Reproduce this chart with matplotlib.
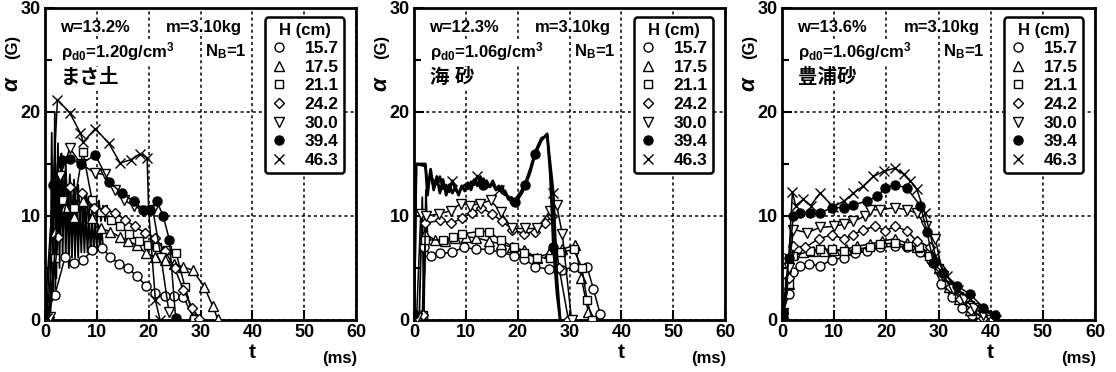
import matplotlib.pyplot as plt
from matplotlib.lines import Line2D

plt.rcParams['font.family'] = ['Liberation Sans', 'Noto Sans CJK JP', 'DejaVu Sans']
plt.rcParams['mathtext.fontset'] = 'custom'
plt.rcParams['mathtext.rm'] = 'Liberation Sans'
plt.rcParams['mathtext.bf'] = 'Liberation Sans:bold'
plt.rcParams['mathtext.default'] = 'regular'

# 落下高さ H (cm)
heights = ['15.7', '17.5', '21.1', '24.2', '30.0', '39.4', '46.3']

# --- まさ土 ---
p1_t157 = [0.0, 1.9, 3.9, 5.6, 7.4, 9.1, 11.0, 12.6, 14.2, 16.0, 17.7, 19.5, 21.3, 23.1, 24.9, 26.7, 28.7]
p1_a157 = [0.3, 2.4, 6.1, 5.5, 5.8, 6.7, 6.9, 6.1, 5.4, 5.0, 4.2, 3.3, 2.6, 2.3, 2.3, 2.2, 0.2]
p1_t175 = [0.3, 1.9, 3.9, 5.5, 7.4, 9.1, 10.8, 12.6, 14.4, 16.0, 17.7, 19.5, 21.3, 23.1, 24.9, 26.7, 28.5, 30.7, 32.4, 33.3]
p1_a175 = [0.2, 8.5, 10.9, 9.9, 11.4, 9.8, 8.8, 8.5, 8.0, 7.6, 7.2, 6.4, 6.1, 5.8, 5.4, 5.1, 4.8, 3.2, 1.3, 0.1]
p1_t211 = [0.5, 1.9, 3.5, 5.5, 7.3, 9.1, 10.9, 12.7, 14.5, 16.3, 18.1, 19.9, 21.7, 23.5, 25.3, 27.0, 28.7]
p1_a211 = [0.2, 6.0, 11.5, 10.8, 16.2, 11.5, 10.4, 9.6, 9.0, 8.3, 7.6, 7.2, 7.0, 6.7, 6.4, 3.2, 0.1]
p1_t242 = [0.8, 2.6, 4.8, 7.2, 9.4, 11.6, 13.6, 15.5, 17.3, 19.2, 21.3, 23.2, 25.0, 26.7, 28.4, 29.8]
p1_a242 = [0.3, 8.0, 12.8, 12.2, 10.8, 10.6, 10.3, 9.6, 9.0, 8.4, 7.9, 6.6, 5.0, 2.9, 1.2, 0.1]
p1_t300 = [1.0, 2.9, 4.8, 7.0, 9.7, 11.6, 13.5, 15.3, 17.1, 19.0, 20.8, 22.4, 23.9]
p1_a300 = [0.3, 13.8, 16.5, 15.0, 14.1, 14.0, 12.5, 11.5, 11.0, 10.5, 10.6, 6.0, 0.8]
p1_t394 = [0.0, 1.6, 3.2, 4.8, 7.0, 9.7, 12.3, 14.8, 17.1, 19.0, 20.3, 21.6, 22.8, 24.0, 25.2]
p1_a394 = [0.6, 13.0, 15.4, 15.5, 15.0, 15.9, 13.3, 12.2, 11.4, 10.6, 10.6, 11.4, 10.0, 7.7, 0.2]
p1_t463 = [0.3, 2.4, 4.8, 6.8, 7.4, 9.7, 12.3, 14.5, 16.5, 18.4, 19.7, 20.0, 21.3, 22.2]
p1_a463 = [0.2, 21.2, 19.9, 18.0, 17.1, 18.4, 17.0, 15.1, 15.4, 16.0, 15.6, 10.5, 1.9, 0.0]
# 初期の振動 (生波形)
p1_nz1_t = [1.0, 1.3, 1.6, 1.9, 2.2, 2.5, 2.8, 3.1, 3.4, 3.7, 4.0, 4.3, 4.6, 4.9, 5.2, 5.5, 5.8, 6.1,
            6.4, 6.7, 7.0, 7.3, 7.6, 7.9, 8.2, 8.5, 8.8, 9.1, 9.4, 9.7, 10.0, 10.3, 10.6, 10.9, 11.2]
p1_nz1_a = [0, 18, 2, 20, 4, 17, 5, 16, 6, 14, 6, 13, 5, 12.5, 6, 12, 6, 11.5,
            6, 11, 6.5, 11, 6.5, 10.5, 6.5, 10, 6.5, 9.8, 6.8, 9.5, 6.8, 9.2, 6.8, 9.0, 7.0]
p1_nz2_t = [2.0, 2.4, 2.8, 3.2, 3.6, 4.0, 4.4, 4.8, 5.2, 5.6, 6.0, 6.4, 6.8, 7.2, 7.6, 8.0, 8.4, 8.8,
            9.2, 9.6, 10.0, 10.4, 10.8, 11.2, 11.6, 12.0]
p1_nz2_a = [3, 15, 8, 16, 9, 15, 9.5, 14, 9.5, 13.5, 9.5, 13, 9.5, 12.5, 9.5, 12, 9.5, 12,
            9.5, 11.5, 9.5, 11.5, 9.5, 11, 9.5, 11]

# --- 海砂 ---
p2_t157 = [0.3, 1.6, 2.0, 3.2, 5.1, 7.4, 9.6, 11.9, 14.4, 16.7, 19.3, 21.2, 23.4, 26.0, 28.6, 30.8, 33.4, 34.6, 35.9]
p2_a157 = [0.2, 0.5, 7.0, 6.2, 6.4, 6.5, 7.0, 6.8, 6.8, 6.5, 6.2, 5.9, 5.1, 4.9, 4.8, 5.1, 5.1, 3.0, 0.6]
p2_t175 = [0.5, 1.8, 2.2, 4.0, 6.0, 8.0, 10.0, 12.0, 14.4, 16.7, 19.0, 21.2, 23.7, 26.0, 28.5, 31.1, 32.3, 33.6, 34.3]
p2_a175 = [0.2, 0.5, 8.3, 7.7, 7.6, 7.9, 8.0, 7.9, 7.6, 7.3, 7.0, 6.7, 6.0, 6.4, 6.8, 7.2, 4.0, 0.8, 0.0]
p2_t211 = [0.5, 1.8, 2.2, 5.5, 7.5, 9.3, 12.5, 14.4, 16.7, 19.3, 21.2, 23.7, 26.3, 28.4, 30.8, 32.4, 33.4, 34.4]
p2_a211 = [0.2, 0.5, 7.7, 7.7, 8.0, 8.3, 8.5, 8.5, 7.7, 7.0, 6.4, 6.0, 6.0, 6.5, 6.8, 5.0, 1.9, 0.0]
p2_t242 = [0.5, 1.8, 2.2, 5.1, 7.2, 9.3, 11.2, 13.0, 15.0, 17.0, 19.0, 21.2, 23.4, 25.3, 26.6, 28.0, 29.8]
p2_a242 = [0.2, 0.5, 9.3, 9.6, 9.3, 9.8, 10.3, 10.8, 10.2, 9.5, 8.7, 8.3, 8.5, 9.3, 10.0, 5.0, 0.0]
p2_t300 = [0.5, 1.3, 2.4, 4.8, 7.1, 9.0, 10.9, 12.8, 14.8, 16.7, 18.9, 21.5, 23.7, 26.3, 27.5, 28.6, 30.4]
p2_a300 = [0.2, 10.2, 10.0, 10.2, 10.5, 11.2, 11.0, 11.2, 11.5, 10.4, 8.8, 8.8, 8.8, 10.5, 11.1, 8.3, 0.0]
p2_t_band = [0.0, 0.4, 2.2, 2.6, 3.2, 3.8, 4.4, 5.0, 5.6, 6.2, 6.8, 7.4, 8.0, 8.6, 9.2, 9.8, 10.4, 11.0,
             11.6, 12.2, 12.8, 13.4, 14.0, 14.6, 15.2, 15.8, 16.4, 17.0, 17.6, 18.2, 18.8, 19.4, 20.0,
             20.8, 21.5, 22.4, 23.4, 24.6, 25.7, 26.3, 26.9, 27.6, 28.2]
p2_a394 = [0.6, 15.0, 15.0, 12.0, 14.5, 12.5, 13.8, 12.2, 13.5, 12.0, 13.0, 12.2, 12.8, 12.0, 12.9, 12.4,
           13.2, 12.5, 13.5, 12.9, 13.8, 13.0, 13.4, 12.8, 13.1, 12.5, 12.9, 12.2, 12.4, 11.6, 11.8, 11.3,
           11.6, 12.2, 13.0, 14.2, 16.0, 17.3, 17.9, 14.0, 7.0, 2.5, 0.0]
p2_a463 = [0.3, 15.0, 14.8, 13.0, 14.0, 12.8, 13.2, 13.8, 12.6, 13.0, 12.3, 13.4, 12.5, 12.2, 12.7, 13.0,
           12.6, 13.3, 13.0, 13.8, 13.3, 13.6, 13.0, 12.8, 13.4, 12.7, 12.5, 12.9, 12.0, 11.9, 11.2, 11.5,
           11.9, 12.5, 13.2, 14.5, 16.2, 17.5, 17.7, 15.0, 12.2, 4.0, 0.0]
p2_nz_t = [1.0, 1.6, 1.9, 2.3, 2.6]
p2_nz_a = [0.0, 11.8, 0.3, 12.5, 8.0]

# --- 豊浦砂 ---
p3_t157 = [0.2, 1.3, 2.2, 3.5, 5.1, 7.3, 9.6, 11.8, 14.0, 16.2, 18.8, 21.7, 23.9, 26.5, 28.5, 30.5, 32.5, 34.5, 36.5, 38.6]
p3_a157 = [0.7, 2.5, 4.6, 5.2, 5.4, 5.2, 5.8, 6.0, 6.4, 6.6, 7.0, 7.1, 7.0, 6.5, 5.8, 3.5, 2.2, 1.2, 0.5, 0.2]
p3_t175 = [0.2, 1.3, 2.2, 4.0, 6.0, 8.0, 10.0, 12.2, 14.4, 16.9, 19.2, 21.7, 23.9, 25.8, 28.0, 30.0, 32.0, 34.0, 36.0, 38.0, 39.2]
p3_a175 = [0.7, 3.5, 6.3, 6.5, 6.6, 6.6, 6.7, 6.8, 7.1, 7.3, 7.6, 7.8, 7.4, 7.0, 6.6, 5.0, 3.2, 2.0, 1.0, 0.3, 0.0]
p3_t211 = [0.2, 1.3, 2.2, 5.4, 7.3, 9.6, 11.8, 14.2, 16.9, 18.8, 21.7, 24.2, 26.2, 28.1, 30.0, 32.0, 34.0, 36.0, 38.0, 39.4]
p3_a211 = [0.7, 3.5, 6.2, 6.6, 6.8, 6.8, 6.6, 6.8, 7.0, 7.3, 7.4, 7.1, 7.0, 6.2, 5.0, 3.4, 2.3, 1.4, 0.6, 0.0]
p3_t242 = [0.2, 1.3, 2.2, 4.5, 7.0, 9.6, 11.8, 13.7, 15.6, 17.9, 19.8, 21.7, 23.9, 25.8, 28.4, 30.2, 32.2, 34.2, 36.2, 38.5]
p3_a242 = [0.7, 4.0, 7.1, 7.0, 7.8, 8.2, 7.8, 8.2, 8.7, 9.0, 8.6, 9.0, 8.6, 7.6, 7.0, 5.0, 3.2, 2.0, 1.0, 0.2]
p3_t300 = [0.2, 1.3, 2.2, 4.8, 7.3, 9.9, 11.8, 13.7, 16.0, 16.9, 18.8, 21.7, 23.9, 25.8, 27.6, 29.4, 30.9, 32.8, 34.8, 36.8, 38.6, 40.0]
p3_a300 = [0.7, 5.0, 8.7, 8.4, 8.9, 9.0, 9.2, 9.5, 10.0, 10.6, 10.6, 10.8, 10.6, 10.3, 9.0, 7.8, 4.2, 3.0, 2.0, 1.2, 0.5, 0.0]
p3_t394 = [0.2, 1.3, 2.2, 3.5, 5.4, 7.3, 9.6, 11.8, 13.7, 16.3, 18.2, 19.8, 21.7, 23.9, 26.5, 27.8, 29.0, 30.9, 33.5, 36.0, 38.6, 40.8]
p3_a394 = [0.7, 6.0, 10.0, 10.3, 10.3, 10.3, 10.8, 10.8, 11.1, 11.4, 11.9, 12.7, 13.0, 12.7, 11.0, 8.5, 5.5, 4.5, 3.3, 2.5, 1.2, 0.5]
p3_t463 = [0.2, 1.3, 2.0, 2.6, 4.1, 5.5, 7.3, 9.8, 11.8, 13.7, 15.6, 17.5, 19.5, 21.7, 23.3, 24.6, 25.8, 27.4, 29.4, 31.6, 33.8, 36.0, 38.3, 40.2, 41.0]
p3_a463 = [0.5, 6.0, 12.3, 11.0, 11.6, 11.0, 12.2, 10.9, 11.4, 12.2, 12.9, 13.8, 14.3, 14.6, 14.0, 13.4, 12.6, 10.3, 6.2, 4.2, 2.9, 2.0, 1.0, 0.5, 0.0]

# 試験条件
p1_labels = ['w=13.2%', 'm=3.10kg', 'ρ$_{d0}$=1.20g/cm$^3$', 'N$_B$=1', 'まさ土']
p2_labels = ['w=12.3%', 'm=3.10kg', 'ρ$_{d0}$=1.06g/cm$^3$', 'N$_B$=1', '海 砂']
p3_labels = ['w=13.6%', 'm=3.10kg', 'ρ$_{d0}$=1.06g/cm$^3$', 'N$_B$=1', '豊浦砂']

# marker, face colour, size
styles = [('o', 'white', 6.5), ('^', 'white', 6.5), ('s', 'white', 5.5), ('D', 'white', 5.5),
          ('v', 'white', 6.5), ('o', 'black', 6.5), ('x', 'black', 6.5)]

fig = plt.figure(figsize=(11.16, 3.72), dpi=100)
boxes = [(45, 311), (414, 311), (782, 313)]

panels = [
    ([(p1_t157, p1_a157), (p1_t175, p1_a175), (p1_t211, p1_a211), (p1_t242, p1_a242),
      (p1_t300, p1_a300), (p1_t394, p1_a394), (p1_t463, p1_a463)],
     [(p1_nz1_t, p1_nz1_a), (p1_nz2_t, p1_nz2_a)], p1_labels),
    ([(p2_t157, p2_a157), (p2_t175, p2_a175), (p2_t211, p2_a211), (p2_t242, p2_a242),
      (p2_t300, p2_a300), (p2_t_band, p2_a394), (p2_t_band, p2_a463)],
     [(p2_nz_t, p2_nz_a)], p2_labels),
    ([(p3_t157, p3_a157), (p3_t175, p3_a175), (p3_t211, p3_a211), (p3_t242, p3_a242),
      (p3_t300, p3_a300), (p3_t394, p3_a394), (p3_t463, p3_a463)],
     [], p3_labels),
]

for k, (series, noise, labels) in enumerate(panels):
    x0, w = boxes[k]
    ax = fig.add_axes([x0 / 1116, 52 / 372, w / 1116, 312 / 372])

    for t, a in noise:
        ax.plot(t, a, color='k', lw=1.3, zorder=2)
    for i, (t, a) in enumerate(series):
        m, fc, ms = styles[i]
        every = None
        lw = 1.1
        if k == 1 and i == 5:
            every, lw = [0, 21, 31, 34, 36, 40], 2.0
        if k == 1 and i == 6:
            every, lw = [6, 11, 19, 26, 40], 1.8
        ax.plot(t, a, color='k', lw=lw, marker=m, ms=ms, mfc=fc, mec='k', mew=1.0,
                markevery=every, zorder=3 + i * 0.1)

    ax.set_xlim(0, 60)
    ax.set_ylim(0, 30)
    ax.set_xticks(range(0, 61, 10))
    ax.set_yticks([0, 10, 20, 30])
    ax.set_yticks([5, 15, 25], minor=True)
    ax.grid(True, which='major', color='k', ls=(0, (2, 2)), lw=1.1)
    ax.tick_params(which='major', direction='in', length=7, width=1.5, labelsize=13, pad=3)
    ax.tick_params(which='minor', direction='in', length=5, width=1.5)
    for lab in ax.get_xticklabels() + ax.get_yticklabels():
        lab.set_fontweight('bold')
    for sp in ax.spines.values():
        sp.set_linewidth(2)

    bb = dict(fc='white', ec='none', pad=0.5)
    tk = dict(fontsize=12, fontweight='bold', va='center', bbox=bb)
    ax.text(2.9, 28.1, labels[0], **tk)
    ax.text(23.3, 28.1, labels[1], **tk)
    ax.text(3.1, 25.8, labels[2], **tk)
    ax.text(30.8, 25.8, labels[3], **tk)
    ax.text(3.1, 23.3, labels[4], fontsize=14, fontweight='bold', va='center', bbox=bb)

    ax.text(-0.105, 0.755, 'α', fontsize=16, style='italic', fontweight='bold', rotation=90,
            transform=ax.transAxes, ha='center', va='center')
    ax.text(-0.105, 0.875, '(G)', fontsize=12, fontweight='bold', rotation=90,
            transform=ax.transAxes, ha='center', va='center')
    ax.text(0.665, -0.105, 't', fontsize=15, fontweight='bold',
            transform=ax.transAxes, ha='center', va='center')
    ax.text(0.948, -0.122, '(ms)', fontsize=12, fontweight='bold',
            transform=ax.transAxes, ha='center', va='center')

    handles = [Line2D([], [], ls='none', marker=m, ms=ms, mfc=fc, mec='k', mew=1.0)
               for m, fc, ms in styles]
    leg = ax.legend(handles, heights, title='H (cm)', loc='upper right',
                    bbox_to_anchor=(0.962, 0.97), title_fontsize=12,
                    fancybox=True, framealpha=1, edgecolor='k', handlelength=1.0,
                    handletextpad=1.0, borderpad=0.3, labelspacing=0.2, borderaxespad=0,
                    prop={'weight': 'bold', 'size': 12.5})
    leg.get_title().set_fontweight('bold')
    leg.get_frame().set_linewidth(1.8)
    leg.set_zorder(10)

fig.savefig('out.png', dpi=100)
